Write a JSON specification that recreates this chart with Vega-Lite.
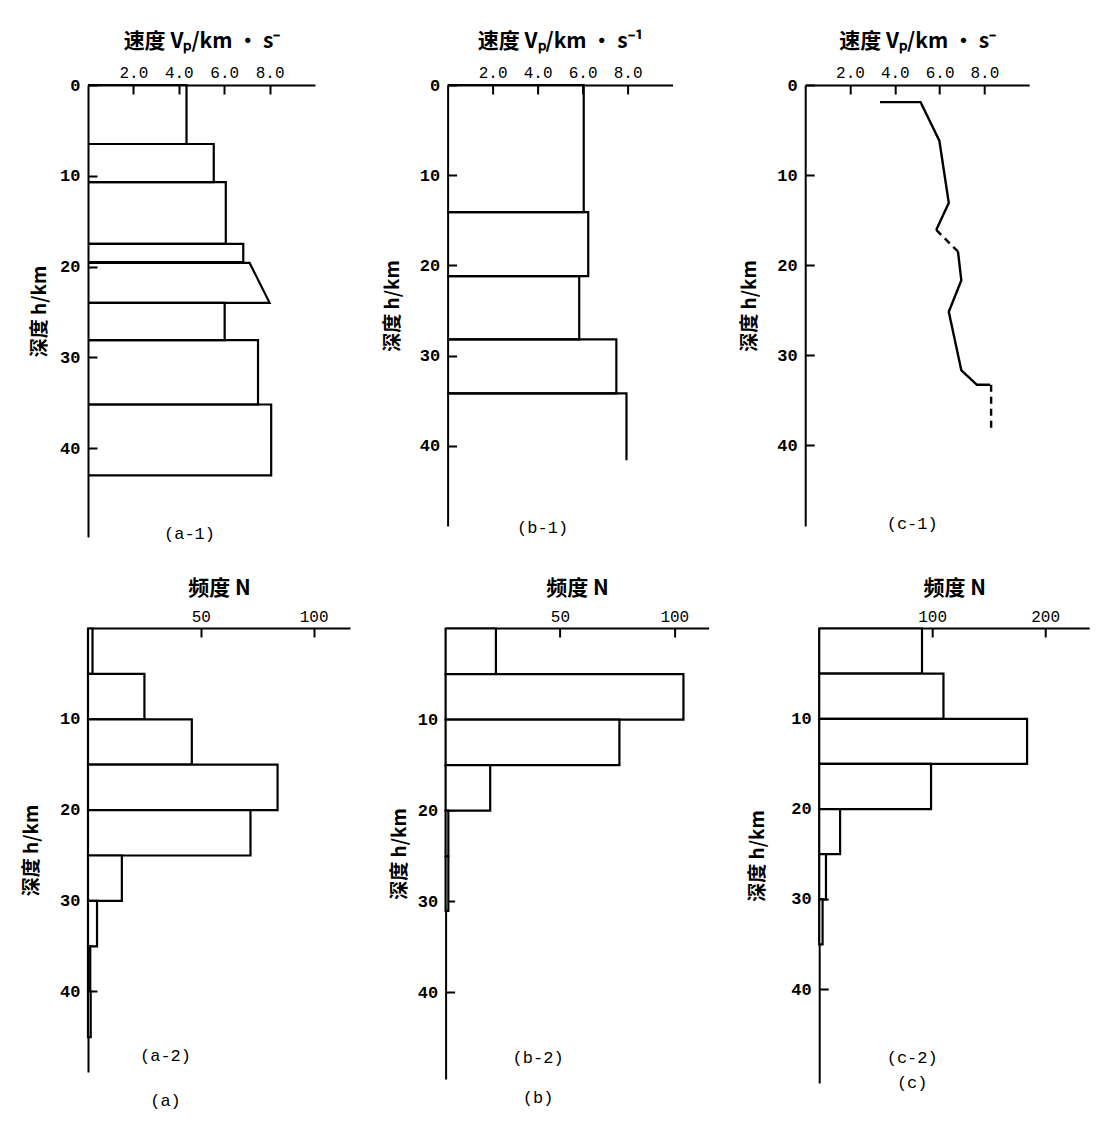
{
 "$schema": "https://vega.github.io/schema/vega-lite/v6.json",
 "background": "white",
 "padding": {"left": 22, "top": 30, "right": 2, "bottom": 2},
 "config": {
   "view": {"stroke": null},
   "axis": {"grid": false, "domainColor": "black", "domainWidth": 2, "tickColor": "black", "tickWidth": 2, "labelColor": "black", "titleColor": "black", "labelFont": "Liberation Mono", "titleFont": "Noto Sans CJK SC", "titleFontWeight": "bold"},
   "axisTop": {"tickSize": -9, "labelPadding": 14, "titlePadding": 13, "labelFontSize": 16, "labelFontWeight": "normal", "titleFontSize": 21},
   "axisLeft": {"tickSize": -9, "labelPadding": 17, "titlePadding": 15, "labelFontSize": 17, "labelFontWeight": "bold", "titleFontSize": 19},
   "title": {"font": "Liberation Mono", "fontSize": 17, "fontWeight": "normal", "color": "black", "orient": "bottom", "frame": "group", "subtitleFont": "Liberation Mono", "subtitleFontSize": 17, "subtitleColor": "black"}
 },
 "datasets": {
   "a1": [
     {"layer": 1, "o": 1, "v": 0, "h": 0}, {"layer": 1, "o": 2, "v": 4.34, "h": 0}, {"layer": 1, "o": 3, "v": 4.34, "h": 6.5}, {"layer": 1, "o": 4, "v": 0, "h": 6.5},
     {"layer": 2, "o": 1, "v": 0, "h": 6.5}, {"layer": 2, "o": 2, "v": 5.54, "h": 6.5}, {"layer": 2, "o": 3, "v": 5.54, "h": 10.7}, {"layer": 2, "o": 4, "v": 0, "h": 10.7},
     {"layer": 3, "o": 1, "v": 0, "h": 10.7}, {"layer": 3, "o": 2, "v": 6.07, "h": 10.7}, {"layer": 3, "o": 3, "v": 6.07, "h": 17.5}, {"layer": 3, "o": 4, "v": 0, "h": 17.5},
     {"layer": 4, "o": 1, "v": 0, "h": 17.5}, {"layer": 4, "o": 2, "v": 6.84, "h": 17.5}, {"layer": 4, "o": 3, "v": 6.84, "h": 19.5}, {"layer": 4, "o": 4, "v": 0, "h": 19.5},
     {"layer": 5, "o": 1, "v": 0, "h": 19.6}, {"layer": 5, "o": 2, "v": 7.12, "h": 19.6}, {"layer": 5, "o": 3, "v": 8.0, "h": 24.0}, {"layer": 5, "o": 4, "v": 0, "h": 24.0},
     {"layer": 6, "o": 1, "v": 0, "h": 24.0}, {"layer": 6, "o": 2, "v": 6.02, "h": 24.0}, {"layer": 6, "o": 3, "v": 6.02, "h": 28.1}, {"layer": 6, "o": 4, "v": 0, "h": 28.1},
     {"layer": 7, "o": 1, "v": 0, "h": 28.1}, {"layer": 7, "o": 2, "v": 7.49, "h": 28.1}, {"layer": 7, "o": 3, "v": 7.49, "h": 35.2}, {"layer": 7, "o": 4, "v": 0, "h": 35.2},
     {"layer": 8, "o": 1, "v": 0, "h": 35.2}, {"layer": 8, "o": 2, "v": 8.07, "h": 35.2}, {"layer": 8, "o": 3, "v": 8.07, "h": 43.0}, {"layer": 8, "o": 4, "v": 0, "h": 43.0}
   ],
   "b1": [
     {"layer": 1, "o": 1, "v": 0, "h": 0}, {"layer": 1, "o": 2, "v": 6.05, "h": 0}, {"layer": 1, "o": 3, "v": 6.05, "h": 14.1}, {"layer": 1, "o": 4, "v": 0, "h": 14.1},
     {"layer": 2, "o": 1, "v": 0, "h": 14.1}, {"layer": 2, "o": 2, "v": 6.25, "h": 14.1}, {"layer": 2, "o": 3, "v": 6.25, "h": 21.2}, {"layer": 2, "o": 4, "v": 0, "h": 21.2},
     {"layer": 3, "o": 1, "v": 0, "h": 21.2}, {"layer": 3, "o": 2, "v": 5.85, "h": 21.2}, {"layer": 3, "o": 3, "v": 5.85, "h": 28.2}, {"layer": 3, "o": 4, "v": 0, "h": 28.2},
     {"layer": 4, "o": 1, "v": 0, "h": 28.2}, {"layer": 4, "o": 2, "v": 7.5, "h": 28.2}, {"layer": 4, "o": 3, "v": 7.5, "h": 34.2}, {"layer": 4, "o": 4, "v": 0, "h": 34.2},
     {"layer": 5, "o": 1, "v": 0, "h": 34.2}, {"layer": 5, "o": 2, "v": 7.95, "h": 34.2}, {"layer": 5, "o": 3, "v": 7.95, "h": 41.6}
   ],
   "c1": [
     {"seg": "s1", "style": "solid", "o": 1, "v": 3.34, "h": 1.9}, {"seg": "s1", "style": "solid", "o": 2, "v": 5.15, "h": 1.9}, {"seg": "s1", "style": "solid", "o": 3, "v": 5.99, "h": 6.2}, {"seg": "s1", "style": "solid", "o": 4, "v": 6.41, "h": 13.1}, {"seg": "s1", "style": "solid", "o": 5, "v": 5.85, "h": 16.1},
     {"seg": "d1", "style": "dashed", "o": 1, "v": 5.85, "h": 16.1}, {"seg": "d1", "style": "dashed", "o": 2, "v": 6.82, "h": 18.5},
     {"seg": "s2", "style": "solid", "o": 1, "v": 6.82, "h": 18.5}, {"seg": "s2", "style": "solid", "o": 2, "v": 6.97, "h": 21.7}, {"seg": "s2", "style": "solid", "o": 3, "v": 6.41, "h": 25.2}, {"seg": "s2", "style": "solid", "o": 4, "v": 6.97, "h": 31.7}, {"seg": "s2", "style": "solid", "o": 5, "v": 7.66, "h": 33.3}, {"seg": "s2", "style": "solid", "o": 6, "v": 8.25, "h": 33.3},
     {"seg": "d2", "style": "dashed", "o": 1, "v": 8.3, "h": 33.3}, {"seg": "d2", "style": "dashed", "o": 2, "v": 8.3, "h": 38.4}
   ],
   "a2": [
     {"h0": 0, "h1": 5, "n": 2}, {"h0": 5, "h1": 10, "n": 25}, {"h0": 10, "h1": 15, "n": 46}, {"h0": 15, "h1": 20, "n": 84},
     {"h0": 20, "h1": 25, "n": 72}, {"h0": 25, "h1": 30, "n": 15}, {"h0": 30, "h1": 35, "n": 4}, {"h0": 35, "h1": 40, "n": 1}, {"h0": 40, "h1": 45, "n": 1.2}
   ],
   "b2": [
     {"h0": 0, "h1": 5, "n": 22}, {"h0": 5, "h1": 10, "n": 104}, {"h0": 10, "h1": 15, "n": 76}, {"h0": 15, "h1": 20, "n": 19.5},
     {"h0": 20, "h1": 25, "n": 1.2}, {"h0": 25, "h1": 31, "n": 1.2}
   ],
   "c2": [
     {"h0": 0, "h1": 5, "n": 91}, {"h0": 5, "h1": 10, "n": 110}, {"h0": 10, "h1": 15, "n": 184}, {"h0": 15, "h1": 20, "n": 99},
     {"h0": 20, "h1": 25, "n": 18.5}, {"h0": 25, "h1": 30, "n": 6}, {"h0": 30, "h1": 35, "n": 3}
   ]
 },
 "vconcat": [
   {
     "hconcat": [
       {
         "width": 227, "height": 452,
         "title": {"text": "(a-1)", "offset": -11, "dx": -12},
         "data": {"name": "a1"},
         "mark": {"type": "line", "color": "black", "strokeWidth": 2.2},
         "encoding": {
           "x": {"field": "v", "type": "quantitative", "scale": {"domain": [0, 10], "nice": false}, "axis": {"orient": "top", "values": [2, 4, 6, 8], "format": ".1f", "title": "速度 Vₚ/km · s⁻"}},
           "y": {"field": "h", "type": "quantitative", "scale": {"domain": [0, 49.8], "reverse": true, "nice": false}, "axis": {"values": [0, 10, 20, 30, 40], "title": "深度 h/km", "titlePadding": 10}},
           "detail": {"field": "layer", "type": "nominal"},
           "order": {"field": "o", "type": "quantitative"}
         }
       },
       {
         "width": 225, "height": 441,
         "title": {"text": "(b-1)", "offset": -6, "dx": -17.5},
         "data": {"name": "b1"},
         "mark": {"type": "line", "color": "black", "strokeWidth": 2.2},
         "encoding": {
           "x": {"field": "v", "type": "quantitative", "scale": {"domain": [0, 10], "nice": false}, "axis": {"orient": "top", "values": [2, 4, 6, 8], "format": ".1f", "title": "速度 Vₚ/km · s⁻¹"}},
           "y": {"field": "h", "type": "quantitative", "scale": {"domain": [0, 48.9], "reverse": true, "nice": false}, "axis": {"values": [0, 10, 20, 30, 40], "title": "深度 h/km", "titlePadding": 17}},
           "detail": {"field": "layer", "type": "nominal"},
           "order": {"field": "o", "type": "quantitative"}
         }
       },
       {
         "width": 224, "height": 441,
         "title": {"text": "(c-1)", "offset": -10, "dx": -5},
         "data": {"name": "c1"},
         "mark": {"type": "line", "color": "black", "strokeWidth": 2.4},
         "encoding": {
           "x": {"field": "v", "type": "quantitative", "scale": {"domain": [0, 10], "nice": false}, "axis": {"orient": "top", "values": [2, 4, 6, 8], "format": ".1f", "title": "速度 Vₚ/km · s⁻"}},
           "y": {"field": "h", "type": "quantitative", "scale": {"domain": [0, 49.0], "reverse": true, "nice": false}, "axis": {"values": [0, 10, 20, 30, 40], "title": "深度 h/km", "titlePadding": 17.5}},
           "detail": {"field": "seg", "type": "nominal"},
           "strokeDash": {"field": "style", "type": "nominal", "scale": {"domain": ["solid", "dashed"], "range": [[1, 0], [7, 5]]}, "legend": null},
           "order": {"field": "o", "type": "quantitative"}
         }
       }
     ],
     "spacing": 67.6
   },
   {
     "hconcat": [
       {
         "width": 262, "height": 444,
         "title": {"text": "(a-2)", "subtitle": "(a)", "subtitlePadding": 28, "offset": -24, "dx": -53.5},
         "data": {"name": "a2"},
         "mark": {"type": "bar", "orient": "horizontal", "binSpacing": 0, "fill": "white", "stroke": "black", "strokeWidth": 2.2},
         "encoding": {
           "x": {"field": "n", "type": "quantitative", "scale": {"domain": [0, 116.1], "nice": false}, "axis": {"orient": "top", "values": [50, 100], "title": "频度 N", "labelPadding": 13, "titlePadding": 10}},
           "y": {"field": "h0", "type": "quantitative", "bin": "binned", "scale": {"domain": [0, 48.9], "reverse": true, "nice": false}, "axis": {"values": [10, 20, 30, 40], "format": "d", "title": "深度 h/km", "titlePadding": 18}},
           "y2": {"field": "h1"}
         }
       },
       {
         "width": 263, "height": 451,
         "title": {"text": "(b-2)", "subtitle": "(b)", "subtitlePadding": 22.7, "offset": -29, "dx": -39},
         "data": {"name": "b2"},
         "mark": {"type": "bar", "orient": "horizontal", "binSpacing": 0, "fill": "white", "stroke": "black", "strokeWidth": 2.2},
         "encoding": {
           "x": {"field": "n", "type": "quantitative", "scale": {"domain": [0, 115], "nice": false}, "axis": {"orient": "top", "values": [50, 100], "title": "频度 N", "labelPadding": 13, "titlePadding": 10}},
           "y": {"field": "h0", "type": "quantitative", "bin": "binned", "scale": {"domain": [0, 49.5], "reverse": true, "nice": false}, "axis": {"values": [10, 20, 30, 40], "format": "d", "title": "深度 h/km", "titlePadding": 8}},
           "y2": {"field": "h1"}
         }
       },
       {
         "width": 270, "height": 455,
         "title": {"text": "(c-2)", "subtitle": "(c)", "subtitlePadding": 8, "offset": -33, "dx": -42},
         "data": {"name": "c2"},
         "mark": {"type": "bar", "orient": "horizontal", "binSpacing": 0, "fill": "white", "stroke": "black", "strokeWidth": 2.2},
         "encoding": {
           "x": {"field": "n", "type": "quantitative", "scale": {"domain": [0, 239], "nice": false}, "axis": {"orient": "top", "values": [100, 200], "title": "频度 N", "labelPadding": 13, "titlePadding": 10}},
           "y": {"field": "h0", "type": "quantitative", "bin": "binned", "scale": {"domain": [0, 50.4], "reverse": true, "nice": false}, "axis": {"values": [10, 20, 30, 40], "format": "d", "title": "深度 h/km", "titlePadding": 23.2}},
           "y2": {"field": "h1"}
         }
       }
     ],
     "spacing": 39.6
   }
 ],
 "spacing": 35
}
